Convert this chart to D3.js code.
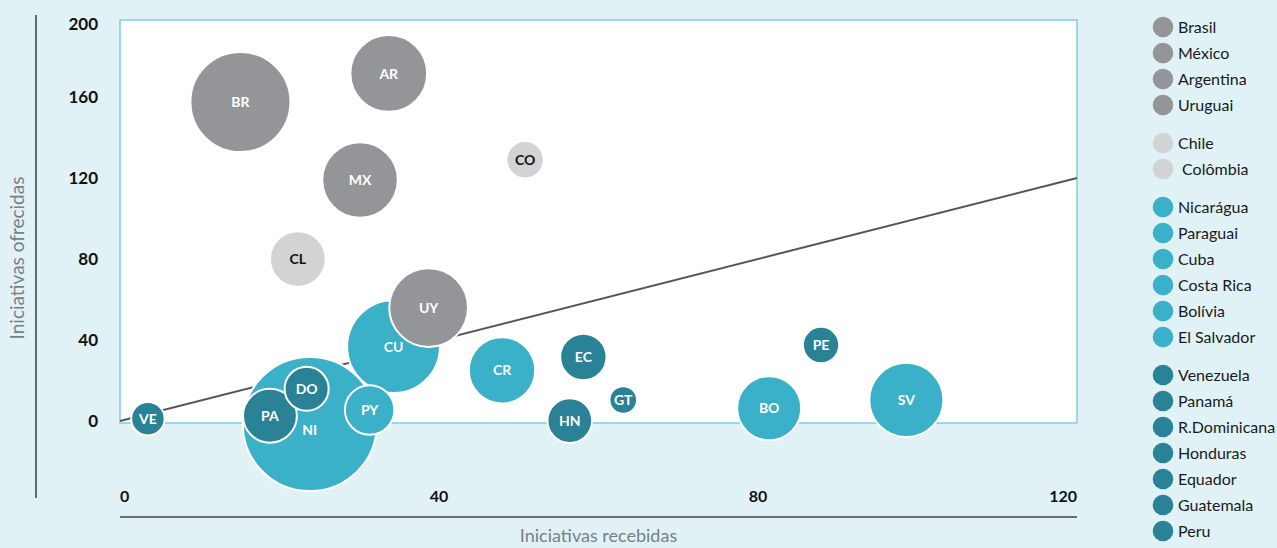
<!DOCTYPE html>
<html><head><meta charset="utf-8">
<script src="https://cdn.jsdelivr.net/npm/d3@7"></script>
<style>
html,body{margin:0;padding:0;background:#e1f2f7;}
svg{display:block;font-family:Lato,"Noto Sans",sans-serif;}
</style></head>
<body><svg id="c" width="1277" height="548"></svg>
<script>
// ---- data ----
const codes    = ["BR","MX","AR","UY","CL","CO","NI","PY","CU","CR","BO","SV","VE","PA","DO","HN","EC","GT","PE"];
const names    = ["Brasil","México","Argentina","Uruguai","Chile"," Colômbia","Nicarágua","Paraguai","Cuba","Costa Rica","Bolívia","El Salvador","Venezuela","Panamá","R.Dominicana","Honduras","Equador","Guatemala","Peru"];
const groups   = [0,0,0,0,1,1,2,2,2,2,2,2,3,3,3,3,3,3,3];
const received = [15.1,30.1,33.7,38.7,22.3,50.8,23.8,31.3,34.3,47.9,81.4,98.6,3.5,18.8,23.4,56.4,58.1,63.1,87.9];
const offered  = [157.5,119,171.6,56,80,129,-1.5,5.4,36.7,25,6.3,10.4,1.1,2.6,15.9,0.2,31.6,10.4,37.5];
const sizes    = [100,57,59,62,31,14,180,24.4,86,44,41,55,11.2,29,19.4,20,21.5,7.6,13.2];
const xTicks   = [0,40,80,120];
const yTicks   = [0,40,80,120,160,200];
const diagonal = [[0,0],[120,120]];
const groupColors = ["#939598","#d1d3d4","#3ab0c9","#2a8296"];
const labelColors = ["#ffffff","#111111","#ffffff","#ffffff"];

const svg = d3.select("#c");
const x = d3.scaleLinear().domain([0,120]).range([120,1077]);
const y = d3.scaleLinear().domain([-1,198]).range([423,20]);
const r = d3.scaleSqrt().domain([0,100]).range([0,50]);

// plot frame
svg.append("rect").attr("x",x(0)).attr("y",y(198)).attr("width",x(120)-x(0)).attr("height",y(-1)-y(198))
  .attr("fill","#ffffff").attr("stroke","#7fd0e2").attr("stroke-width",1.5);

// y axis line and ticks
svg.append("line").attr("x1",36).attr("x2",36).attr("y1",15).attr("y2",498).attr("stroke","#111").attr("stroke-width",1.2);
svg.append("g").selectAll("text").data(yTicks).join("text")
  .attr("x",98).attr("y",d=>Math.max(y(d),24)).attr("dy","0.35em")
  .attr("text-anchor","end").attr("font-weight","bold").attr("font-size",17).attr("fill","#111")
  .text(d=>d);
svg.append("text").attr("transform","translate(24,258) rotate(-90)").attr("text-anchor","middle")
  .attr("font-size",19).attr("fill","#7a7f82").text("Iniciativas ofrecidas");

// x axis
svg.append("g").selectAll("text").data(xTicks).join("text")
  .attr("x",d=>x(d)).attr("y",502)
  .attr("text-anchor",(d,i)=> i===0?"start":(i===xTicks.length-1?"end":"middle"))
  .attr("font-weight","bold").attr("font-size",16).attr("fill","#111").text(d=>d);
svg.append("line").attr("x1",x(0)).attr("x2",x(120)).attr("y1",517).attr("y2",517).attr("stroke","#6b6f72").attr("stroke-width",2);
svg.append("text").attr("x",(x(0)+x(120))/2).attr("y",542).attr("text-anchor","middle")
  .attr("font-size",18).attr("fill","#7a7f82").text("Iniciativas recebidas");

// diagonal line
svg.append("path").attr("d",d3.line().x(d=>x(d[0])).y(d=>y(d[1]))(diagonal))
  .attr("stroke","#555").attr("fill","none").attr("stroke-width",2);

// bubbles
const data = codes.map((c,i)=>({c,g:groups[i],x:received[i],y:offered[i],s:sizes[i]}))
  .sort((a,b)=>b.s-a.s);
const nodes = svg.append("g").selectAll("g").data(data).join("g")
  .attr("transform",d=>`translate(${x(d.x)},${y(d.y)})`);
nodes.append("circle").attr("r",d=>r(d.s)).attr("fill",d=>groupColors[d.g])
  .attr("stroke","#ffffff").attr("stroke-width",2);
nodes.append("text").attr("text-anchor","middle").attr("dy","0.36em")
  .attr("font-size",14).attr("font-weight","bold").attr("fill",d=>labelColors[d.g])
  .attr("transform",d=>d.c==="NI"?"translate(0,6)":null)
  .text(d=>d.c);

// legend
let ly = 27;
const legendY = names.map((n,i)=>{ if(i>0){ ly += 26 + (groups[i]!==groups[i-1]?12:0); } return ly; });
const lg = svg.append("g").selectAll("g").data(names).join("g")
  .attr("transform",(d,i)=>`translate(1163,${legendY[i]})`);
lg.append("circle").attr("r",10.3).attr("fill",(d,i)=>groupColors[groups[i]]);
lg.append("text").attr("x",15).attr("dy","0.35em").attr("font-size",16).attr("fill","#1a1a1a")
  .style("white-space","pre").text(d=>d);
</script></body></html>
